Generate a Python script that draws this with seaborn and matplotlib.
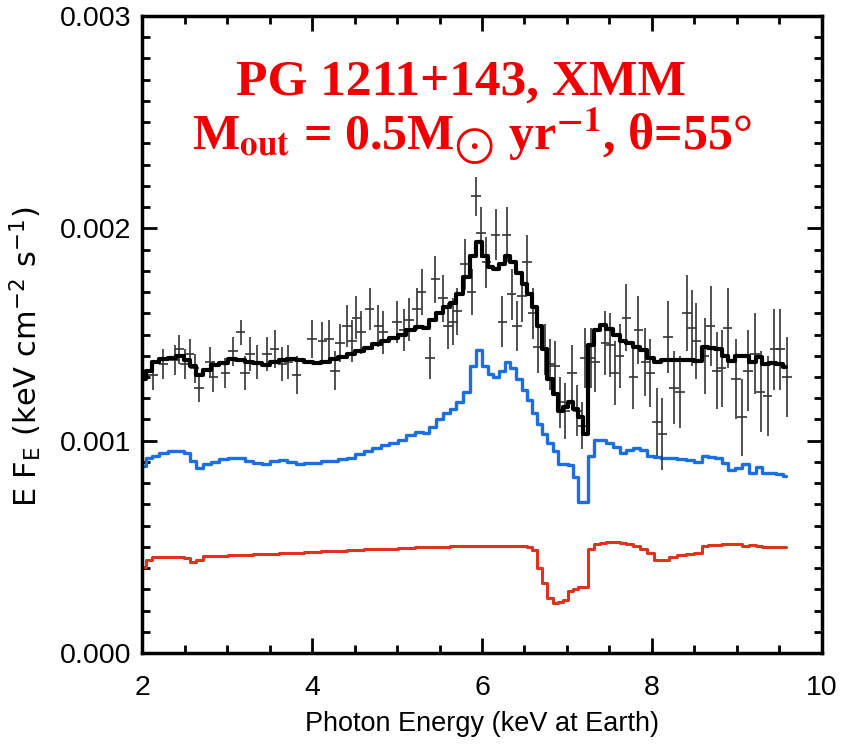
import numpy as np
import pandas as pd
import matplotlib
matplotlib.use("Agg")
import matplotlib.pyplot as plt
import seaborn as sns
from matplotlib.ticker import MultipleLocator, FormatStrFormatter

# model energies (keV) - shared grid for the three step curves
model_e = [2.02, 2.08, 2.15, 2.25, 2.35, 2.45, 2.53, 2.60, 2.68, 2.76, 2.86, 2.96,
           3.06, 3.16, 3.26, 3.36, 3.46, 3.56, 3.66, 3.76, 3.86, 3.96, 4.06, 4.16,
           4.26, 4.36, 4.46, 4.56, 4.66, 4.76, 4.86, 4.96, 5.06, 5.16, 5.26, 5.34,
           5.42, 5.50, 5.58, 5.66, 5.74, 5.82, 5.90, 5.97, 6.04, 6.10, 6.17, 6.24,
           6.30, 6.37, 6.44, 6.50, 6.56, 6.62, 6.68, 6.74, 6.80, 6.86, 6.92, 6.98,
           7.04, 7.10, 7.16, 7.22, 7.28, 7.35, 7.42, 7.50, 7.58, 7.66, 7.74, 7.82,
           7.90, 7.98, 8.06, 8.15, 8.25, 8.35, 8.45, 8.55, 8.62, 8.70, 8.78, 8.86,
           8.94, 9.02, 9.10, 9.18, 9.26, 9.34, 9.42, 9.50, 9.58]

# total model (black), units of 1e-3
total_model = [1.29, 1.33, 1.37, 1.385, 1.39, 1.40, 1.38, 1.35, 1.31, 1.335, 1.355, 1.365,
               1.385, 1.38, 1.37, 1.365, 1.355, 1.37, 1.38, 1.385, 1.38, 1.37, 1.365, 1.37,
               1.385, 1.395, 1.41, 1.42, 1.435, 1.455, 1.47, 1.485, 1.50, 1.52, 1.535, 1.53,
               1.57, 1.60, 1.63, 1.65, 1.69, 1.77, 1.87, 1.935, 1.87, 1.82, 1.81, 1.83,
               1.87, 1.84, 1.79, 1.74, 1.69, 1.63, 1.54, 1.43, 1.29, 1.22, 1.14, 1.16,
               1.18, 1.15, 1.11, 1.03, 1.45, 1.52, 1.545, 1.525, 1.50, 1.47, 1.46, 1.44,
               1.425, 1.39, 1.37, 1.38, 1.38, 1.38, 1.38, 1.375, 1.44, 1.435, 1.43, 1.40,
               1.375, 1.40, 1.40, 1.37, 1.395, 1.36, 1.365, 1.36, 1.345]

# reflected / scattered component (blue)
blue_model = [0.88, 0.92, 0.93, 0.94, 0.95, 0.95, 0.94, 0.905, 0.87, 0.89, 0.90, 0.915,
              0.92, 0.92, 0.905, 0.895, 0.89, 0.905, 0.91, 0.90, 0.89, 0.895, 0.895, 0.905,
              0.905, 0.915, 0.92, 0.935, 0.95, 0.965, 0.98, 0.99, 1.005, 1.025, 1.04, 1.035,
              1.065, 1.10, 1.13, 1.15, 1.18, 1.23, 1.35, 1.425, 1.35, 1.315, 1.30, 1.33,
              1.37, 1.34, 1.29, 1.24, 1.19, 1.13, 1.08, 1.03, 0.99, 0.95, 0.89, 0.89,
              0.885, 0.83, 0.71, 0.71, 0.93, 1.005, 1.005, 0.99, 0.97, 0.94, 0.955, 0.965,
              0.955, 0.93, 0.925, 0.92, 0.92, 0.915, 0.91, 0.90, 0.93, 0.925, 0.92, 0.895,
              0.86, 0.87, 0.89, 0.85, 0.875, 0.85, 0.85, 0.845, 0.835]

# transmitted component (red)
red_model = [0.405, 0.44, 0.45, 0.45, 0.452, 0.45, 0.448, 0.428, 0.44, 0.455, 0.455, 0.458,
             0.46, 0.462, 0.463, 0.465, 0.466, 0.468, 0.47, 0.47, 0.472, 0.474, 0.476, 0.478,
             0.48, 0.482, 0.484, 0.486, 0.488, 0.49, 0.49, 0.492, 0.494, 0.495, 0.497, 0.498,
             0.50, 0.50, 0.501, 0.502, 0.503, 0.504, 0.504, 0.504, 0.504, 0.504, 0.504, 0.504,
             0.504, 0.504, 0.504, 0.502, 0.50, 0.485, 0.40, 0.33, 0.26, 0.235, 0.24, 0.25,
             0.29, 0.30, 0.31, 0.31, 0.49, 0.515, 0.52, 0.522, 0.523, 0.52, 0.515, 0.505,
             0.49, 0.47, 0.44, 0.44, 0.45, 0.46, 0.465, 0.47, 0.505, 0.508, 0.51, 0.512,
             0.513, 0.513, 0.505, 0.508, 0.503, 0.50, 0.50, 0.50, 0.50]

# observed spectrum (crosses)
data_e = [2.00, 2.13, 2.25, 2.39, 2.44, 2.50, 2.56, 2.62, 2.67, 2.80, 2.84, 2.98,
          3.07, 3.16, 3.21, 3.27, 3.35, 3.47, 3.56, 3.65, 3.72, 3.82, 4.00, 4.12,
          4.20, 4.27, 4.33, 4.41, 4.47, 4.52, 4.58, 4.68, 4.78, 4.84, 5.00, 5.08,
          5.14, 5.23, 5.29, 5.39, 5.45, 5.54, 5.60, 5.66, 5.71, 5.80, 5.88, 5.93,
          5.99, 6.05, 6.16, 6.24, 6.29, 6.35, 6.41, 6.47, 6.53, 6.60, 6.66, 6.74,
          6.80, 6.86, 6.92, 6.98, 7.06, 7.12, 7.18, 7.21, 7.28, 7.33, 7.45, 7.51,
          7.56, 7.62, 7.70, 7.78, 7.84, 7.92, 7.98, 8.06, 8.12, 8.19, 8.26, 8.33,
          8.41, 8.47, 8.52, 8.62, 8.69, 8.76, 8.82, 8.89, 8.99, 9.06, 9.13, 9.21,
          9.28, 9.36, 9.44, 9.51, 9.59]
data_f = [1.30, 1.31, 1.36, 1.38, 1.43, 1.36, 1.41, 1.34, 1.25, 1.37, 1.30, 1.32,
          1.42, 1.51, 1.32, 1.41, 1.37, 1.41, 1.43, 1.36, 1.37, 1.31, 1.48, 1.47,
          1.48, 1.33, 1.46, 1.54, 1.47, 1.58, 1.51, 1.62, 1.54, 1.51, 1.56, 1.52,
          1.57, 1.62, 1.70, 1.39, 1.76, 1.67, 1.54, 1.56, 1.61, 1.83, 1.70, 2.15,
          1.98, 1.84, 1.97, 1.56, 1.97, 1.69, 1.54, 1.68, 1.84, 1.60, 1.44, 1.43,
          1.36, 1.35, 1.18, 1.14, 1.32, 1.14, 1.07, 1.39, 1.39, 1.37, 1.46, 1.45,
          1.32, 1.40, 1.58, 1.30, 1.52, 1.37, 1.32, 1.09, 1.03, 1.49, 1.25, 1.23,
          1.60, 1.53, 1.47, 1.40, 1.54, 1.33, 1.34, 1.53, 1.29, 1.11, 1.33, 1.41,
          1.23, 1.21, 1.43, 1.43, 1.30]
data_ferr = [0.07, 0.07, 0.07, 0.07, 0.07, 0.07, 0.07, 0.07, 0.07, 0.07, 0.07, 0.07,
             0.07, 0.06, 0.08, 0.08, 0.08, 0.08, 0.09, 0.08, 0.08, 0.09, 0.09, 0.09,
             0.09, 0.09, 0.09, 0.10, 0.10, 0.10, 0.10, 0.10, 0.10, 0.10, 0.10, 0.10,
             0.10, 0.10, 0.11, 0.10, 0.11, 0.11, 0.11, 0.11, 0.11, 0.12, 0.11, 0.09,
             0.12, 0.12, 0.12, 0.12, 0.13, 0.12, 0.12, 0.12, 0.13, 0.12, 0.12, 0.12,
             0.12, 0.12, 0.12, 0.13, 0.13, 0.12, 0.11, 0.14, 0.14, 0.14, 0.15, 0.15,
             0.15, 0.15, 0.16, 0.15, 0.16, 0.16, 0.16, 0.16, 0.17, 0.17, 0.17, 0.17,
             0.18, 0.18, 0.18, 0.18, 0.19, 0.18, 0.18, 0.19, 0.19, 0.18, 0.19, 0.19,
             0.19, 0.19, 0.19, 0.19, 0.19]
data_ewid = 0.055

scale = 1e-3
models = pd.DataFrame({
    "energy": model_e,
    "total": np.array(total_model) * scale,
    "blue": np.array(blue_model) * scale,
    "red": np.array(red_model) * scale,
})

sns.set_style("ticks")
plt.rcParams["font.family"] = ["Liberation Sans", "DejaVu Sans"]
plt.rcParams["mathtext.fontset"] = "stix"
plt.rcParams["text.color"] = "black"
plt.rcParams["axes.labelcolor"] = "black"
plt.rcParams["xtick.color"] = "black"
plt.rcParams["ytick.color"] = "black"

fig = plt.figure(figsize=(8.54, 7.49), dpi=100)
ax = fig.add_axes([0.1663, 0.1282, 0.7962, 0.8504])

sns.lineplot(data=models, x="energy", y="red", ax=ax, color="#e0321c",
             lw=2.2, drawstyle="steps-mid", estimator=None, sort=False)
sns.lineplot(data=models, x="energy", y="blue", ax=ax, color="#1c6fe3",
             lw=2.4, drawstyle="steps-mid", estimator=None, sort=False)
ax.errorbar(data_e, np.array(data_f) * scale, xerr=data_ewid,
            yerr=np.array(data_ferr) * scale, fmt="none", ecolor="#333333",
            elinewidth=1.2, capsize=0)
sns.lineplot(data=models, x="energy", y="total", ax=ax, color="black",
             lw=3, drawstyle="steps-mid", estimator=None, sort=False)

ax.set_xlim(2, 10)
ax.set_ylim(0, 0.003)
ax.xaxis.set_major_locator(MultipleLocator(2))
ax.xaxis.set_minor_locator(MultipleLocator(0.5))
ax.yaxis.set_major_locator(MultipleLocator(0.001))
ax.yaxis.set_minor_locator(MultipleLocator(0.0001))
ax.yaxis.set_major_formatter(FormatStrFormatter("%.3f"))
ax.tick_params(which="both", direction="in", top=True, right=True, width=2,
               colors="black")
ax.tick_params(which="major", length=11, labelsize=20.5)
ax.tick_params(axis="x", which="major", pad=16)
ax.tick_params(axis="y", which="major", pad=8)
ax.tick_params(which="minor", length=6)
for s in ax.spines.values():
    s.set_linewidth(2.5)
    s.set_color("black")
    s.set_visible(True)

ax.set_xlabel("Photon Energy (keV at Earth)", fontsize=19.5, labelpad=7)
ax.set_ylabel(r"E F$_\mathregular{E}$ (keV cm$^\mathregular{-2}$ s$^\mathregular{-1}$)",
              fontsize=22, family="DejaVu Sans")
ax.yaxis.set_label_coords(-0.145, 0.465)

ax.text(0.469, 0.876, "PG 1211+143, XMM", transform=ax.transAxes, ha="center",
        va="baseline", color="#f00000", fontsize=37, fontweight="bold",
        family="Liberation Serif")
ax.text(0.485, 0.791,
        r"M$_{\mathbf{out}}$ = 0.5M$_{\bigodot}$ yr$^{\mathbf{-1}}$, θ=55°",
        transform=ax.transAxes, ha="center", va="baseline", color="#f00000",
        fontsize=36, fontweight="bold", family="Liberation Serif")

fig.savefig("out.png", dpi=100)
